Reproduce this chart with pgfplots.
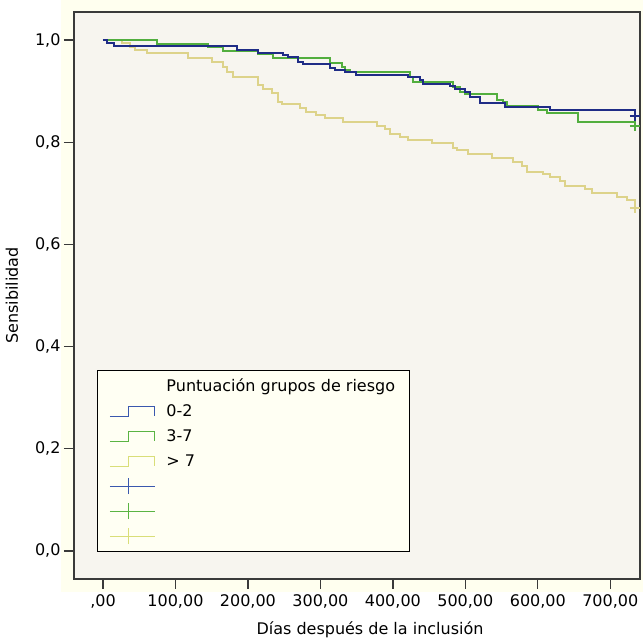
\documentclass[border=0pt]{standalone}
\usepackage{pgfplots}
\pgfplotsset{compat=1.18}
\usepackage{fontspec}
\setmainfont{DejaVu Sans}

\definecolor{outerbg}{HTML}{FFFFEF}
\definecolor{plotbg}{HTML}{F7F5EF}
\definecolor{legendbg}{HTML}{FFFFF3}
\definecolor{axisgray}{HTML}{3A3A3A}
\definecolor{kmblue}{HTML}{1F2C86}
\definecolor{kmgreen}{HTML}{52AE3E}
\definecolor{kmyellow}{HTML}{DDD38A}
\definecolor{lgblue}{HTML}{3A58AE}
\definecolor{lggreen}{HTML}{5AB443}
\definecolor{lgyellow}{HTML}{D9DE78}

\pgfplotstableread{
x y
0 1.000
5.5 0.9935
15.2 0.988
184.8 0.980
213.8 0.975
248.3 0.971
255.2 0.966
269 0.958
275.9 0.953
313.1 0.946
320 0.941
333.8 0.937
349 0.932
420.7 0.927
437 0.922
441.4 0.915
478.6 0.910
485.5 0.905
499.3 0.899
506.2 0.889
520 0.876
554.5 0.869
616.6 0.864
733.8 0.851
741 0.851
}\lowrisk

\pgfplotstableread{
x y
0 1.000
74.5 0.993
144.8 0.987
165.5 0.979
213.8 0.972
234.5 0.964
313.1 0.956
329.7 0.948
333.8 0.941
340.7 0.937
423.4 0.928
427.6 0.918
482.8 0.908
492.4 0.899
499.3 0.894
543.4 0.883
551.7 0.879
557.2 0.871
600 0.864
612.4 0.857
655.2 0.840
733.8 0.832
741 0.832
}\midrisk

\pgfplotstableread{
x y
0 1.000
26.2 0.995
37.2 0.987
44.1 0.980
60.7 0.974
117.2 0.964
150.3 0.958
165.5 0.948
171 0.938
179.3 0.928
213.8 0.912
220.7 0.905
233.1 0.896
241.4 0.878
246.9 0.874
271.7 0.868
280 0.860
293.8 0.853
306.2 0.847
331 0.839
377.9 0.832
389 0.825
395.9 0.817
409.7 0.811
420.7 0.804
453.8 0.798
482.8 0.789
488.3 0.785
503.4 0.777
536.6 0.770
565.5 0.762
577.9 0.753
584.8 0.742
606.9 0.738
616.6 0.731
630.3 0.725
637.2 0.714
664.8 0.708
674.5 0.701
709 0.693
722.8 0.687
733.8 0.671
741 0.671
}\highrisk

\pgfplotstableread{
x y
733.8 0.851
}\lowcens
\pgfplotstableread{
x y
733.8 0.832
}\midcens
\pgfplotstableread{
x y
733.8 0.671
}\highcens

\begin{document}
\begin{tikzpicture}
\fill[white] (-74pt,-60pt) rectangle (569pt,579pt);
\fill[outerbg] (-13pt,-13pt) rectangle (569pt,579pt);
\begin{axis}[
    at={(0,0)}, anchor=south west,
    scale only axis,
    width=566pt, height=567pt,
    xmin=-40, xmax=741,
    ymin=-0.055, ymax=1.055,
    axis background/.style={fill=plotbg},
    axis line style={draw=axisgray, line width=1.3pt},
    xtick={0,100,200,300,400,500,600,700},
    xticklabels={{,00},{100,00},{200,00},{300,00},{400,00},{500,00},{600,00},{700,00}},
    ytick={0,0.2,0.4,0.6,0.8,1.0},
    yticklabels={{0,0},{0,2},{0,4},{0,6},{0,8},{1,0}},
    xtick pos=bottom, ytick pos=left,
    tick align=outside,
    major tick length=10pt,
    tick style={line width=1.3pt, draw=axisgray},
    tick label style={font=\fontsize{16}{19}\selectfont},
    xticklabel style={yshift=-2pt},
    xlabel={Días después de la inclusión},
    ylabel={Sensibilidad},
    label style={font=\fontsize{16}{19}\selectfont},
    xlabel style={at={(rel axis cs:0.523,0)}, anchor=center, yshift=-51pt},
    ylabel style={at={(rel axis cs:0,0.5)}, anchor=center, yshift=62pt},
    legend cell align=left,
    legend style={at={(rel axis cs:0.0406,0.3686)}, anchor=north west,
        draw=black, line width=1pt, fill=legendbg,
        font=\fontsize{16}{19}\selectfont,
        inner xsep=12pt, inner ysep=7pt, row sep=7.5pt,
        /tikz/every even column/.append style={text height=12pt, text depth=4pt},
        column sep=9pt},
]
\addplot[const plot, kmyellow, line width=2pt, forget plot] table {\highrisk};
\addplot[const plot, kmgreen, line width=2pt, forget plot] table {\midrisk};
\addplot[const plot, kmblue, line width=2pt, forget plot] table {\lowrisk};
\addplot[only marks, mark=+, mark size=5pt, kmyellow, line width=2pt, forget plot] table {\highcens};
\addplot[only marks, mark=+, mark size=5pt, kmgreen, line width=2pt, forget plot] table {\midcens};
\addplot[only marks, mark=+, mark size=5pt, kmblue, line width=2pt, forget plot] table {\lowcens};

\addlegendimage{empty legend}
\addlegendentry{Puntuación grupos de riesgo}
\addlegendimage{legend image code/.code={\draw[lgblue, line width=1pt] (0pt,-5pt) -- (19pt,-5pt) -- (19pt,5pt) -- (45pt,5pt) -- (45pt,-5pt);}}
\addlegendentry{0-2}
\addlegendimage{legend image code/.code={\draw[lggreen, line width=1pt] (0pt,-5pt) -- (19pt,-5pt) -- (19pt,5pt) -- (45pt,5pt) -- (45pt,-5pt);}}
\addlegendentry{3-7}
\addlegendimage{legend image code/.code={\draw[lgyellow, line width=1pt] (0pt,-5pt) -- (19pt,-5pt) -- (19pt,5pt) -- (45pt,5pt) -- (45pt,-5pt);}}
\addlegendentry{> 7}
\addlegendimage{legend image code/.code={\draw[lgblue, line width=1pt] (0pt,0pt) -- (45pt,0pt); \draw[lgblue, line width=1pt] (19pt,-8pt) -- (19pt,8pt);}}
\addlegendentry{\mbox{}}
\addlegendimage{legend image code/.code={\draw[lggreen, line width=1pt] (0pt,0pt) -- (45pt,0pt); \draw[lggreen, line width=1pt] (19pt,-8pt) -- (19pt,8pt);}}
\addlegendentry{\mbox{}}
\addlegendimage{legend image code/.code={\draw[lgyellow, line width=1pt] (0pt,0pt) -- (45pt,0pt); \draw[lgyellow, line width=1pt] (19pt,-8pt) -- (19pt,8pt);}}
\addlegendentry{\mbox{}}
\end{axis}
\end{tikzpicture}
\end{document}
